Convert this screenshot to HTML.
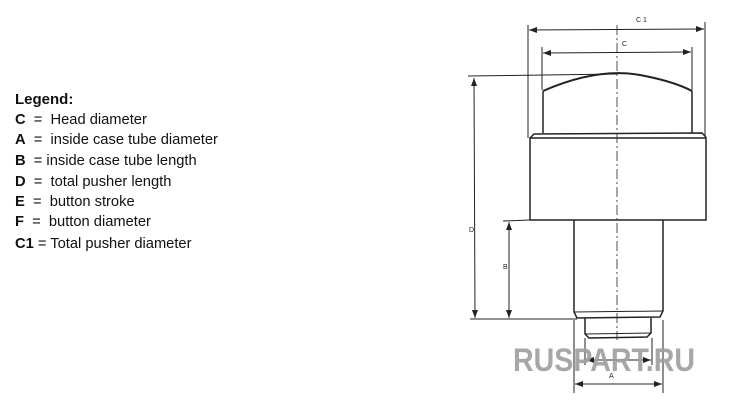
<!DOCTYPE html>
<html><head><meta charset="utf-8"><style>
html,body{margin:0;padding:0;background:#fff;width:736px;height:400px;overflow:hidden}
svg{display:block}
.t{font-family:"Liberation Sans",Arial,sans-serif;font-size:14.7px;fill:#111;white-space:pre}
.b{font-weight:bold}
.s{font-family:"Liberation Sans",Arial,sans-serif;font-size:7px;fill:#222}
</style></head><body>
<svg width="736" height="400" viewBox="0 0 736 400" xmlns="http://www.w3.org/2000/svg">
<defs>
<marker id="a" markerWidth="8" markerHeight="6" refX="8" refY="3" orient="auto-start-reverse" markerUnits="userSpaceOnUse"><path d="M0,0 L8,3 L0,6 z" fill="#222"/></marker>
</defs>
<text class="t b" x="15" y="104" style="font-size:15px">Legend:</text>
<text class="t" x="15" y="124" xml:space="preserve"><tspan class="b">C</tspan>  =  Head diameter</text>
<text class="t" x="15" y="144" xml:space="preserve"><tspan class="b">A</tspan>  =  inside case tube diameter</text>
<text class="t" x="15" y="165" xml:space="preserve"><tspan class="b">B</tspan>  = inside case tube length</text>
<text class="t" x="15" y="186" xml:space="preserve"><tspan class="b">D</tspan>  =  total pusher length</text>
<text class="t" x="15" y="206" xml:space="preserve"><tspan class="b">E</tspan>  =  button stroke</text>
<text class="t" x="15" y="226" xml:space="preserve"><tspan class="b">F</tspan>  =  button diameter</text>
<text class="t" x="15" y="248" xml:space="preserve"><tspan class="b">C1</tspan> = Total pusher diameter</text>

<g stroke="#222" fill="none" stroke-width="1">
<line x1="617" y1="25" x2="617" y2="340" stroke-dasharray="10,3,2,3" stroke-width="0.8"/>
<line x1="528" y1="25" x2="528" y2="138"/>
<line x1="705" y1="22" x2="705" y2="138"/>
<line x1="529" y1="30" x2="704" y2="29" marker-start="url(#a)" marker-end="url(#a)"/>
<line x1="542" y1="47" x2="542" y2="90"/>
<line x1="692" y1="47" x2="692" y2="90"/>
<line x1="543" y1="53" x2="691" y2="52" marker-start="url(#a)" marker-end="url(#a)"/>
<path d="M543,91 Q600,66 645,76 Q675,82 692,91" stroke-width="2"/>
<line x1="543" y1="91" x2="543" y2="133" stroke-width="1.5"/>
<line x1="692" y1="91" x2="692" y2="133" stroke-width="1.5"/>
<line x1="468" y1="76" x2="617" y2="74"/>
<path d="M530,138 L534,134 L702,133 L706,137" stroke-width="1.5"/>
<rect x="530" y="138" width="176" height="82" stroke-width="1.5"/>
<path d="M574,220 L574,312 L577,318 L660,317 L663,311 L663,220" stroke-width="1.5"/>
<line x1="574" y1="312" x2="663" y2="311"/>
<path d="M585,318 L585,334 L589,338 L647,337 L651,333 L651,318" stroke-width="1.5"/>
<line x1="585" y1="334" x2="651" y2="333"/>
<line x1="474" y1="78" x2="475" y2="318" marker-start="url(#a)" marker-end="url(#a)"/>
<line x1="470" y1="319" x2="577" y2="319"/>
<line x1="503" y1="221" x2="530" y2="220"/>
<line x1="509" y1="222" x2="509" y2="318" marker-start="url(#a)" marker-end="url(#a)"/>
<line x1="585" y1="338" x2="585" y2="365"/>
<line x1="652" y1="338" x2="652" y2="365"/>
<line x1="586" y1="360" x2="651" y2="360" marker-start="url(#a)" marker-end="url(#a)"/>
<line x1="574" y1="320" x2="574" y2="393"/>
<line x1="663" y1="320" x2="663" y2="393"/>
<line x1="575" y1="384" x2="662" y2="384" marker-start="url(#a)" marker-end="url(#a)"/>
</g>
<text class="s" x="636" y="22">C 1</text>
<text class="s" x="622" y="46">C</text>
<text class="s" x="469" y="232">D</text>
<text class="s" x="503" y="269">B</text>
<text class="s" x="609" y="378">A</text>
<text x="513" y="371" style="font-family:'Liberation Sans',Arial,sans-serif;font-size:32px;font-weight:bold;fill:#a0a0a0;opacity:0.92" textLength="182" lengthAdjust="spacingAndGlyphs">RUSPART.RU</text>
</svg>
</body></html>
